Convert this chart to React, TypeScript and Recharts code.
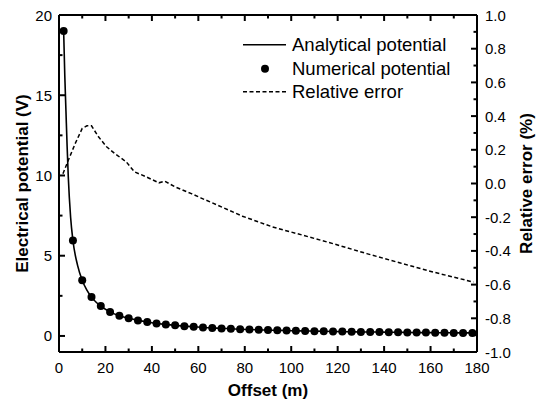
import { ComposedChart, Line, XAxis, YAxis, Label } from "recharts";

const FONT = "'Liberation Sans', Arial, Helvetica, sans-serif";

// analytical potential (solid curve)
const analyticalX = [2, 2.5, 3, 3.5, 4, 5, 6, 8, 10, 12, 14, 16, 18, 22, 26, 30, 34, 38, 42, 46, 50, 54, 58, 62, 66, 70, 74, 78, 82, 86, 90, 94, 98, 102, 106, 110, 114, 118, 122, 126, 130, 134, 138, 142, 146, 150, 154, 158, 162, 166, 170, 174, 178];
const analyticalV = [19.0, 16.2, 14.0, 11.8, 9.9, 7.4, 5.95, 4.4, 3.47, 2.85, 2.42, 2.1, 1.86, 1.5, 1.26, 1.1, 0.97, 0.87, 0.78, 0.72, 0.66, 0.61, 0.57, 0.53, 0.5, 0.47, 0.45, 0.42, 0.4, 0.38, 0.37, 0.35, 0.34, 0.32, 0.31, 0.3, 0.29, 0.28, 0.27, 0.26, 0.25, 0.25, 0.24, 0.23, 0.23, 0.22, 0.21, 0.21, 0.2, 0.2, 0.19, 0.19, 0.19];

// numerical potential (dots)
const numericalX = [2, 6, 10, 14, 18, 22, 26, 30, 34, 38, 42, 46, 50, 54, 58, 62, 66, 70, 74, 78, 82, 86, 90, 94, 98, 102, 106, 110, 114, 118, 122, 126, 130, 134, 138, 142, 146, 150, 154, 158, 162, 166, 170, 174, 178];
const numericalV = [19.0, 5.95, 3.47, 2.42, 1.86, 1.5, 1.26, 1.1, 0.97, 0.87, 0.78, 0.72, 0.66, 0.61, 0.57, 0.53, 0.5, 0.47, 0.45, 0.42, 0.4, 0.38, 0.37, 0.35, 0.34, 0.32, 0.31, 0.3, 0.29, 0.28, 0.27, 0.26, 0.25, 0.25, 0.24, 0.23, 0.23, 0.22, 0.21, 0.21, 0.2, 0.2, 0.19, 0.19, 0.19];

// relative error (%) (dashed, right axis)
const errorX = [1.7, 4, 7, 10, 12, 14, 17, 20.5, 24, 27.5, 29, 32.5, 37, 43, 45.5, 50, 57, 61, 66, 79, 92, 105, 118, 132.5, 147, 161, 178.5];
const errorV = [0.058, 0.138, 0.238, 0.327, 0.342, 0.342, 0.277, 0.218, 0.178, 0.143, 0.128, 0.069, 0.043, 0.004, 0.014, -0.02, -0.06, -0.085, -0.115, -0.194, -0.258, -0.307, -0.357, -0.416, -0.472, -0.525, -0.585];

const xTicks = [0, 10, 20, 30, 40, 50, 60, 70, 80, 90, 100, 110, 120, 130, 140, 150, 160, 170, 180];
const leftTicks = [0, 2.5, 5, 7.5, 10, 12.5, 15, 17.5, 20];
const rightTicks = [-1.0, -0.9, -0.8, -0.7, -0.6, -0.5, -0.4, -0.3, -0.2, -0.1, 0, 0.1, 0.2, 0.3, 0.4, 0.5, 0.6, 0.7, 0.8, 0.9, 1.0];

const analytical = analyticalX.map((x, i) => ({ x, y: analyticalV[i] }));
const numerical = numericalX.map((x, i) => ({ x, y: numericalV[i] }));
const relError = errorX.map((x, i) => ({ x, y: errorV[i] }));

const MAJOR = 6;
const MINOR = 3.5;
const isMajorX = (v: number) => v % 20 === 0;
const isMajorL = (v: number) => v % 5 === 0;
const isMajorR = (v: number) => Math.round(v * 10) % 2 === 0;

const BottomTick = (props: any) => {
  const x = Number(props.x);
  const y = Number(props.y);
  const v = props.payload.value;
  return (
    <g>
      <line x1={x} y1={y} x2={x} y2={y - (isMajorX(v) ? MAJOR : MINOR)} stroke="black" strokeWidth={2} />
      {isMajorX(v) && (
        <text x={x} y={y + 20.5} textAnchor="middle" fontSize={15} fontFamily={FONT} fill="#000">
          {v}
        </text>
      )}
    </g>
  );
};

const TopTick = (props: any) => {
  const x = Number(props.x);
  const y = Number(props.y);
  const v = props.payload.value;
  return <line x1={x} y1={y} x2={x} y2={y + (isMajorX(v) ? MAJOR : MINOR)} stroke="black" strokeWidth={2} />;
};

const LeftTick = (props: any) => {
  const x = Number(props.x);
  const y = Number(props.y);
  const v = props.payload.value;
  return (
    <g>
      <line x1={x} y1={y} x2={x + (isMajorL(v) ? MAJOR : MINOR)} y2={y} stroke="black" strokeWidth={2} />
      {isMajorL(v) && (
        <text x={x - 7} y={y} textAnchor="end" dominantBaseline="central" fontSize={15} fontFamily={FONT} fill="#000">
          {v}
        </text>
      )}
    </g>
  );
};

const RightTick = (props: any) => {
  const x = Number(props.x);
  const y = Number(props.y);
  const v = props.payload.value;
  return (
    <g>
      <line x1={x} y1={y} x2={x - (isMajorR(v) ? MAJOR : MINOR)} y2={y} stroke="black" strokeWidth={2} />
      {isMajorR(v) && (
        <text x={x + 8} y={y} textAnchor="start" dominantBaseline="central" fontSize={15} fontFamily={FONT} fill="#000">
          {v.toFixed(1)}
        </text>
      )}
    </g>
  );
};

const LegendBox = () => {
  const row = { display: "flex", alignItems: "center", height: 23.5 } as const;
  const txt = { marginLeft: 6, fontSize: 18.5, fontFamily: FONT, color: "#000", lineHeight: "23.5px", whiteSpace: "nowrap" } as const;
  return (
    <div style={{ position: "absolute", left: 243, top: 33 }}>
      <div style={row}>
        <svg width={43} height={23.5}>
          <line x1={0} y1={11.75} x2={43} y2={11.75} stroke="#000" strokeWidth={1.6} />
        </svg>
        <span style={txt}>Analytical potential</span>
      </div>
      <div style={row}>
        <svg width={43} height={23.5}>
          <circle cx={22} cy={11.75} r={4} fill="#000" />
        </svg>
        <span style={txt}>Numerical potential</span>
      </div>
      <div style={row}>
        <svg width={43} height={23.5}>
          <line x1={0} y1={11.75} x2={43} y2={11.75} stroke="#000" strokeWidth={1.5} strokeDasharray="4 2.5" />
        </svg>
        <span style={txt}>Relative error</span>
      </div>
    </div>
  );
};

const Dot = (p: any) => <circle key={`d-${p.index}`} cx={p.cx} cy={p.cy} r={4} fill="#000" />;

const axisLine = { stroke: "black", strokeWidth: 2 };

export default function App() {
  return (
    <div style={{ position: "absolute", left: 0, top: 0, width: 537, height: 404 }}>
      <ComposedChart width={537} height={404} margin={{ top: 14, right: 0, bottom: 0, left: 0 }}>
        <XAxis
          xAxisId="x"
          type="number"
          dataKey="x"
          domain={[0, 180]}
          ticks={xTicks}
          interval={0}
          height={52}
          tickSize={0}
          tickMargin={0}
          tick={BottomTick}
          tickLine={false}
          axisLine={axisLine}
        >
          <Label
            content={(p: any) => {
              const vb = p.viewBox;
              return (
                <text x={vb.x + vb.width / 2} y={vb.y + 44} textAnchor="middle" fontSize={17} fontWeight="bold" fontFamily={FONT} fill="#000">
                  Offset (m)
                </text>
              );
            }}
          />
        </XAxis>
        <XAxis
          xAxisId="top"
          orientation="top"
          type="number"
          dataKey="x"
          domain={[0, 180]}
          ticks={xTicks}
          interval={0}
          height={1}
          tickSize={0}
          tickMargin={0}
          tick={TopTick}
          tickLine={false}
          axisLine={axisLine}
        />
        <YAxis
          yAxisId="left"
          type="number"
          domain={[-1, 20]}
          ticks={leftTicks}
          interval={0}
          width={59}
          tickSize={0}
          tickMargin={0}
          tick={LeftTick}
          tickLine={false}
          axisLine={axisLine}
        >
          <Label
            content={(p: any) => {
              const vb = p.viewBox;
              const cx = vb.x + 22;
              const cy = vb.y + vb.height / 2;
              return (
                <text transform={`translate(${cx}, ${cy}) rotate(-90)`} textAnchor="middle" dominantBaseline="central" fontSize={17} fontWeight="bold" fontFamily={FONT} fill="#000">
                  Electrical potential (V)
                </text>
              );
            }}
          />
        </YAxis>
        <YAxis
          yAxisId="right"
          orientation="right"
          type="number"
          domain={[-1, 1]}
          ticks={rightTicks}
          interval={0}
          width={60}
          tickSize={0}
          tickMargin={0}
          tick={RightTick}
          tickLine={false}
          axisLine={axisLine}
        >
          <Label
            content={(p: any) => {
              const vb = p.viewBox;
              const cx = vb.x + 49;
              const cy = vb.y + vb.height / 2;
              return (
                <text transform={`translate(${cx}, ${cy}) rotate(-90)`} textAnchor="middle" dominantBaseline="central" fontSize={17} fontWeight="bold" fontFamily={FONT} fill="#000">
                  Relative error (%)
                </text>
              );
            }}
          />
        </YAxis>
        <Line
          xAxisId="x"
          yAxisId="right"
          data={relError}
          dataKey="y"
          type="linear"
          stroke="#000"
          strokeWidth={1.5}
          strokeDasharray="4 2.5"
          dot={false}
          activeDot={false}
          isAnimationActive={false}
        />
        <Line
          xAxisId="x"
          yAxisId="left"
          data={analytical}
          dataKey="y"
          type="monotone"
          stroke="#000"
          strokeWidth={1.6}
          dot={false}
          activeDot={false}
          isAnimationActive={false}
        />
        <Line
          xAxisId="top"
          yAxisId="left"
          data={numerical}
          dataKey="y"
          stroke="none"
          dot={Dot}
          activeDot={false}
          isAnimationActive={false}
        />
      </ComposedChart>
      <LegendBox />
    </div>
  );
}
